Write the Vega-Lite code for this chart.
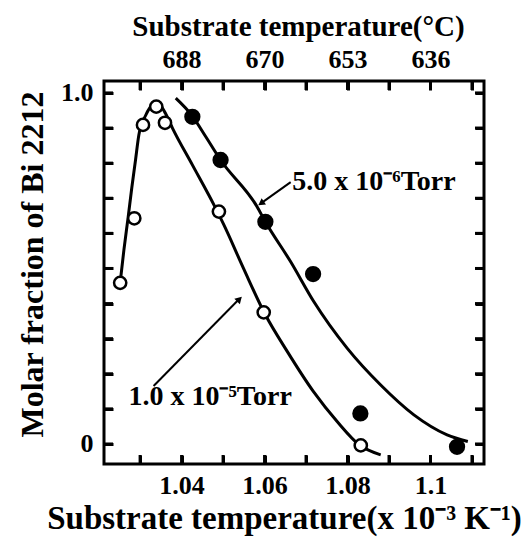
{
  "$schema": "https://vega.github.io/schema/vega-lite/v6.json",
  "width": 380,
  "height": 383,
  "autosize": {"type": "none"},
  "padding": {"left": 104, "top": 81, "right": 39, "bottom": 78},
  "background": "white",
  "config": {
    "view": {"stroke": "black", "strokeWidth": 3},
    "axis": {
      "domain": false,
      "grid": false,
      "ticks": true,
      "tickColor": "black",
      "tickWidth": 3,
      "tickSize": 9,
      "offset": -9,
      "labelFont": "Liberation Serif",
      "labelFontWeight": "bold",
      "labelFontSize": 26,
      "labelColor": "black",
      "titleFont": "Liberation Serif",
      "titleFontWeight": "bold",
      "titleFontSize": 32,
      "titleColor": "black"
    }
  },
  "datasets": {
    "xticks": [
      {"v": 1.03}, {"v": 1.04}, {"v": 1.05}, {"v": 1.06}, {"v": 1.07},
      {"v": 1.08}, {"v": 1.09}, {"v": 1.1}, {"v": 1.11}
    ],
    "yticks": [
      {"v": 0}, {"v": 0.1}, {"v": 0.2}, {"v": 0.3}, {"v": 0.4}, {"v": 0.5},
      {"v": 0.6}, {"v": 0.7}, {"v": 0.8}, {"v": 0.9}, {"v": 1}
    ],
    "curveOpen": [
      {"x": 1.0252, "y": 0.46},
      {"x": 1.0261, "y": 0.553},
      {"x": 1.0271, "y": 0.644},
      {"x": 1.028, "y": 0.73},
      {"x": 1.0289, "y": 0.809},
      {"x": 1.0297, "y": 0.88},
      {"x": 1.0313, "y": 0.935},
      {"x": 1.033, "y": 0.965},
      {"x": 1.0345, "y": 0.968},
      {"x": 1.0362, "y": 0.94},
      {"x": 1.0378, "y": 0.9},
      {"x": 1.0426, "y": 0.795},
      {"x": 1.0478, "y": 0.681},
      {"x": 1.0502, "y": 0.624},
      {"x": 1.0549, "y": 0.501},
      {"x": 1.0602, "y": 0.368},
      {"x": 1.0655, "y": 0.263},
      {"x": 1.0718, "y": 0.149},
      {"x": 1.0775, "y": 0.064},
      {"x": 1.0829, "y": -0.003},
      {"x": 1.088, "y": -0.031}
    ],
    "curveFilled": [
      {"x": 1.0386, "y": 0.985},
      {"x": 1.0426, "y": 0.934},
      {"x": 1.0458, "y": 0.876},
      {"x": 1.0494, "y": 0.809},
      {"x": 1.0582, "y": 0.676},
      {"x": 1.0602, "y": 0.633},
      {"x": 1.0663, "y": 0.519},
      {"x": 1.0719, "y": 0.405},
      {"x": 1.0799, "y": 0.273},
      {"x": 1.088, "y": 0.168},
      {"x": 1.096, "y": 0.083},
      {"x": 1.104, "y": 0.026},
      {"x": 1.109, "y": 0.007}
    ],
    "points": [
      {"series": "1.0e-5 Torr", "x": 1.0252, "y": 0.459},
      {"series": "1.0e-5 Torr", "x": 1.0286, "y": 0.643},
      {"series": "1.0e-5 Torr", "x": 1.0307, "y": 0.909},
      {"series": "1.0e-5 Torr", "x": 1.0339, "y": 0.961},
      {"series": "1.0e-5 Torr", "x": 1.036, "y": 0.915},
      {"series": "1.0e-5 Torr", "x": 1.049, "y": 0.662},
      {"series": "1.0e-5 Torr", "x": 1.0598, "y": 0.375},
      {"series": "1.0e-5 Torr", "x": 1.0832, "y": -0.004},
      {"series": "5.0e-6 Torr", "x": 1.0426, "y": 0.932},
      {"series": "5.0e-6 Torr", "x": 1.0494, "y": 0.809},
      {"series": "5.0e-6 Torr", "x": 1.0602, "y": 0.633},
      {"series": "5.0e-6 Torr", "x": 1.0717, "y": 0.484},
      {"series": "5.0e-6 Torr", "x": 1.0831, "y": 0.087},
      {"series": "5.0e-6 Torr", "x": 1.1064, "y": -0.008}
    ],
    "arrows": [
      {"arrow": "a", "x": 1.0663, "y": 0.746},
      {"arrow": "a", "x": 1.0592, "y": 0.686},
      {"arrow": "b", "x": 1.03325, "y": 0.165},
      {"arrow": "b", "x": 1.0539, "y": 0.413}
    ],
    "heads": [
      {"arrow": "a", "x": 1.05916, "y": 0.6858},
      {"arrow": "b", "x": 1.05395, "y": 0.4128}
    ],
    "labels": [
      {"label": "5.0 x 10⁻⁶Torr", "x": 1.0667, "y": 0.724},
      {"label": "1.0 x 10⁻⁵Torr", "x": 1.0272, "y": 0.111}
    ]
  },
  "layer": [
    {
      "data": {"name": "curveOpen"},
      "mark": {"type": "line", "color": "black", "strokeWidth": 3, "interpolate": "monotone"},
      "encoding": {
        "x": {
          "field": "x", "type": "quantitative",
          "scale": {"domain": [1.0213, 1.1129], "nice": false, "zero": false},
          "axis": {
            "orient": "bottom",
            "values": [1.03, 1.04, 1.05, 1.06, 1.07, 1.08, 1.09, 1.1, 1.11],
            "labelExpr": "round(datum.value*100)==104 ? '1.04' : round(datum.value*100)==106 ? '1.06' : round(datum.value*100)==108 ? '1.08' : round(datum.value*100)==110 ? '1.1' : ''",
            "labelPadding": 8,
            "title": "Substrate temperature(x 10⁻³ K⁻¹)",
            "titleX": 180,
            "titleY": 73,
            "titleFontSize": 33,
            "titleAlign": "center",
            "titleBaseline": "alphabetic"
          }
        },
        "y": {
          "field": "y", "type": "quantitative",
          "scale": {"domain": [-0.057, 1.034], "nice": false, "zero": false},
          "axis": {
            "orient": "left",
            "values": [0, 0.1, 0.2, 0.3, 0.4, 0.5, 0.6, 0.7, 0.8, 0.9, 1],
            "labelExpr": "datum.value==0 ? '0' : datum.value==1 ? '1.0' : ''",
            "labelPadding": 11,
            "title": "Molar fraction of Bi 2212",
            "titleX": -71,
            "titleY": 183,
            "titleAngle": -90,
            "titleAlign": "center",
            "titleBaseline": "alphabetic"
          }
        }
      }
    },
    {
      "data": {"name": "xticks"},
      "mark": {"type": "rule", "color": "black", "strokeWidth": 3},
      "encoding": {
        "x": {"field": "v", "type": "quantitative", "axis": null},
        "y": {"datum": -0.057, "type": "quantitative", "axis": null},
        "y2": {"datum": -0.0314}
      }
    },
    {
      "data": {"name": "xticks"},
      "mark": {"type": "rule", "color": "black", "strokeWidth": 3},
      "encoding": {
        "x": {"field": "v", "type": "quantitative", "axis": null},
        "y": {"datum": 1.034, "type": "quantitative", "axis": null},
        "y2": {"datum": 1.0084}
      }
    },
    {
      "data": {"name": "yticks"},
      "mark": {"type": "rule", "color": "black", "strokeWidth": 3},
      "encoding": {
        "y": {"field": "v", "type": "quantitative", "axis": null},
        "x": {"datum": 1.0213, "type": "quantitative", "axis": null},
        "x2": {"datum": 1.02347}
      }
    },
    {
      "data": {"name": "yticks"},
      "mark": {"type": "rule", "color": "black", "strokeWidth": 3},
      "encoding": {
        "y": {"field": "v", "type": "quantitative", "axis": null},
        "x": {"datum": 1.1129, "type": "quantitative", "axis": null},
        "x2": {"datum": 1.11073}
      }
    },
    {
      "data": {"name": "curveFilled"},
      "mark": {"type": "line", "color": "black", "strokeWidth": 3, "interpolate": "monotone"},
      "encoding": {
        "x": {"field": "x", "type": "quantitative", "axis": null},
        "y": {"field": "y", "type": "quantitative", "axis": null}
      }
    },
    {
      "data": {"name": "arrows"},
      "mark": {"type": "line", "color": "black", "strokeWidth": 2},
      "encoding": {
        "x": {"field": "x", "type": "quantitative", "axis": null},
        "y": {"field": "y", "type": "quantitative", "axis": null},
        "detail": {"field": "arrow"}
      }
    },
    {
      "data": {"name": "heads"},
      "transform": [{"filter": "datum.arrow == 'a'"}],
      "mark": {"type": "point", "shape": "triangle-up", "filled": true, "color": "black", "size": 60, "angle": 235.5, "opacity": 1},
      "encoding": {
        "x": {"field": "x", "type": "quantitative", "axis": null},
        "y": {"field": "y", "type": "quantitative", "axis": null}
      }
    },
    {
      "data": {"name": "heads"},
      "transform": [{"filter": "datum.arrow == 'b'"}],
      "mark": {"type": "point", "shape": "triangle-up", "filled": true, "color": "black", "size": 60, "angle": 44.7, "opacity": 1},
      "encoding": {
        "x": {"field": "x", "type": "quantitative", "axis": null},
        "y": {"field": "y", "type": "quantitative", "axis": null}
      }
    },
    {
      "data": {"name": "labels"},
      "mark": {"type": "text", "font": "Liberation Serif", "fontWeight": "bold", "fontSize": 28, "align": "left", "baseline": "alphabetic", "color": "black"},
      "encoding": {
        "x": {"field": "x", "type": "quantitative", "axis": null},
        "y": {"field": "y", "type": "quantitative", "axis": null},
        "text": {"field": "label"}
      }
    },
    {
      "data": {"name": "points"},
      "mark": {"type": "point", "shape": "circle", "filled": true, "stroke": "black", "strokeWidth": 2.5, "opacity": 1},
      "encoding": {
        "x": {
          "field": "x", "type": "quantitative",
          "axis": {
            "orient": "top",
            "values": [1.03, 1.04, 1.05, 1.06, 1.07, 1.08, 1.09, 1.1, 1.11],
            "labelExpr": "round(datum.value*100)==104 ? '688' : round(datum.value*100)==106 ? '670' : round(datum.value*100)==108 ? '653' : round(datum.value*100)==110 ? '636' : ''",
            "labelPadding": 9,
            "title": "Substrate temperature(°C)",
            "titleX": 194,
            "titleY": -55,
            "titleFontSize": 29,
            "titleAlign": "center",
            "titleBaseline": "alphabetic"
          }
        },
        "y": {
          "field": "y", "type": "quantitative",
          "axis": {
            "orient": "right",
            "values": [0, 0.1, 0.2, 0.3, 0.4, 0.5, 0.6, 0.7, 0.8, 0.9, 1],
            "labels": false,
            "title": null
          }
        },
        "fill": {
          "field": "series", "type": "nominal",
          "scale": {"domain": ["1.0e-5 Torr", "5.0e-6 Torr"], "range": ["white", "black"]},
          "legend": null
        },
        "size": {
          "field": "series", "type": "nominal",
          "scale": {"domain": ["1.0e-5 Torr", "5.0e-6 Torr"], "range": [150, 190]},
          "legend": null
        }
      }
    }
  ]
}
